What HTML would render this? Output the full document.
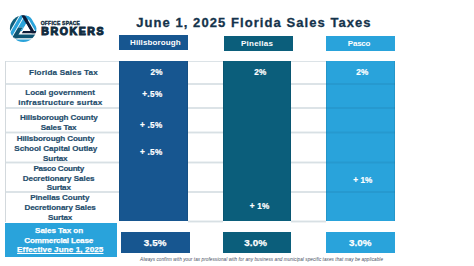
<!DOCTYPE html><html><head><meta charset="utf-8"><style>
html,body{margin:0;padding:0;background:#fff;width:474px;height:266px;overflow:hidden;position:relative}
span{position:absolute;white-space:nowrap;font-family:"Liberation Sans",sans-serif;line-height:0;}
.box{position:absolute}
.hl{position:absolute;left:5px;width:390px;height:2px;background:#dce3e7}
.pl{position:absolute;left:326px;width:69px;height:2px;background:rgba(0,30,60,0.07)}
.vl{position:absolute;width:1px;background:#d3d9dd}
.h3{height:1px;background:#d8e0e4;box-shadow:0 -1px 0 #eef2f4,0 1px 0 #eef2f4}
</style></head><body>
<svg style="position:absolute;left:0;top:0" width="50" height="50" viewBox="0 0 50 50"><defs><clipPath id="cc"><circle cx="23" cy="28" r="12.9"/></clipPath></defs><g transform="translate(23.2,28.6) scale(1.03) translate(-23,-28)"><g clip-path="url(#cc)"><polygon points="17.89,10.00 22.09,10.00 4.78,40.00 0.58,40.00" fill="#0f5f7d"/><polygon points="23.09,10.00 26.79,10.00 7.17,44.00 3.47,44.00" fill="#2ba3da"/><polygon points="27.79,10.00 33.59,10.00 23.78,27.00 17.98,27.00" fill="#2ba3da"/><polygon points="17.98,27.00 22.48,27.00 17.00,36.50 12.50,36.50" fill="#0e5472"/><polygon points="22.48,27.00 23.78,27.00 21.82,30.40 20.52,30.40" fill="#2ba3da"/><polygon points="18.21,10.00 21.81,10.00 34.85,32.60 31.25,32.60" fill="#0e1c38"/><polygon points="23.01,10.00 26.21,10.00 38.91,32.00 35.71,32.00" fill="#2ba3da"/><polygon points="25.90,23.30 21.82,30.40 29.98,30.40" fill="#fff"/><polygon points="22.92,30.40 40.00,30.40 40.00,32.60 21.65,32.60" fill="#0e1c38"/><polygon points="16.71,33.70 40.00,33.70 40.00,37.40 14.58,37.40" fill="#0e5472"/><polygon points="12.20,36.50 18.00,36.50 17.48,37.40 11.68,37.40" fill="#0e5472"/><polygon points="16.00,38.50 40.00,38.50 40.00,44.00 16.00,44.00" fill="#2ba3da"/></g></g></svg>
<div class="hl" style="top:61px;height:1px"></div><div class="hl" style="top:83px"></div><div class="hl" style="top:107px"></div><div class="hl" style="top:191px"></div><div class="hl h3" style="top:132px"></div><div class="hl h3" style="top:162px"></div><div class="hl h3" style="left:188px;width:35px;top:221px"></div><div class="hl h3" style="left:291px;width:35px;top:221px"></div>
<div class="box" style="left:119px;top:35px;width:69px;height:15px;background:#175690"></div>
<div class="box" style="left:224px;top:36px;width:69px;height:15px;background:#0b5e7b"></div>
<div class="box" style="left:326px;top:36px;width:69px;height:15px;background:#29a3db"></div>
<div class="vl" style="left:5px;top:61px;height:161px"></div>
<div class="box" style="left:119px;top:61px;width:69px;height:160px;background:#175690;box-shadow:inset 1px 0 rgba(0,0,0,0.08),inset -1px 0 rgba(0,0,0,0.08)"></div>
<div class="box" style="left:223px;top:61px;width:68px;height:160px;background:#0b5e7b;box-shadow:inset 1px 0 rgba(0,0,0,0.08),inset -1px 0 rgba(0,0,0,0.08)"></div>
<div class="box" style="left:326px;top:61px;width:69px;height:160px;background:#29a3db;box-shadow:inset 1px 0 rgba(0,0,0,0.08),inset -1px 0 rgba(0,0,0,0.08)"></div>
<div class="pl" style="top:83px"></div><div class="pl" style="top:107px"></div><div class="pl" style="top:191px"></div><div class="pl" style="top:132px;height:1px;box-shadow:0 -1px 0 rgba(0,30,60,0.035),0 1px 0 rgba(0,30,60,0.035)"></div><div class="pl" style="top:162px;height:1px;box-shadow:0 -1px 0 rgba(0,30,60,0.035),0 1px 0 rgba(0,30,60,0.035)"></div>
<div class="box" style="left:5px;top:223px;width:112px;height:34px;background:#29a3db"></div>
<div class="box" style="left:121px;top:232px;width:69px;height:21px;background:#175690"></div>
<div class="box" style="left:223px;top:232px;width:68px;height:21px;background:#0b5e7b"></div>
<div class="box" style="left:326px;top:232px;width:69px;height:21px;background:#29a3db"></div>
<span style="left:40.67px;top:23.22px;font-size:5.0px;letter-spacing:0.246px;color:#112c40;font-weight:bold;font-style:normal;-webkit-text-stroke:0.35px #112c40;">OFFICE SPACE</span><span style="left:41.35px;top:31.41px;font-size:10.5px;letter-spacing:1.600px;color:#112c40;font-weight:bold;font-style:normal;-webkit-text-stroke:1.1px #112c40;">BROKERS</span><span style="left:136.15px;top:22.55px;font-size:13.0px;letter-spacing:1.067px;color:#14334b;font-weight:bold;font-style:normal;-webkit-text-stroke:0.3px #14334b;">June 1, 2025 Florida Sales Taxes</span><span style="left:130.00px;top:43.18px;font-size:8.0px;letter-spacing:0.114px;color:#fff;font-weight:bold;font-style:normal;">Hillsborough</span><span style="left:241.00px;top:44.38px;font-size:8.0px;letter-spacing:0.230px;color:#fff;font-weight:bold;font-style:normal;">Pinellas</span><span style="left:347.80px;top:44.38px;font-size:8.0px;letter-spacing:-0.221px;color:#fff;font-weight:bold;font-style:normal;">Pasco</span><span style="left:29.10px;top:73.00px;font-size:8.1px;letter-spacing:0.164px;color:#1f4d6c;font-weight:bold;font-style:normal;-webkit-text-stroke:0.2px #1f4d6c;">Florida Sales Tax</span><span style="left:25.20px;top:93.00px;font-size:8.1px;letter-spacing:0.006px;color:#1f4d6c;font-weight:bold;font-style:normal;-webkit-text-stroke:0.2px #1f4d6c;">Local government</span><span style="left:18.20px;top:103.00px;font-size:8.1px;letter-spacing:0.247px;color:#1f4d6c;font-weight:bold;font-style:normal;-webkit-text-stroke:0.2px #1f4d6c;">infrastructure surtax</span><span style="left:20.00px;top:118.00px;font-size:8.1px;letter-spacing:-0.129px;color:#1f4d6c;font-weight:bold;font-style:normal;-webkit-text-stroke:0.2px #1f4d6c;">Hillsborough County</span><span style="left:40.80px;top:128.00px;font-size:8.1px;letter-spacing:-0.118px;color:#1f4d6c;font-weight:bold;font-style:normal;-webkit-text-stroke:0.2px #1f4d6c;">Sales Tax</span><span style="left:16.70px;top:139.00px;font-size:8.1px;letter-spacing:-0.124px;color:#1f4d6c;font-weight:bold;font-style:normal;-webkit-text-stroke:0.2px #1f4d6c;">Hillsborough County</span><span style="left:14.30px;top:149.00px;font-size:8.1px;letter-spacing:-0.032px;color:#1f4d6c;font-weight:bold;font-style:normal;-webkit-text-stroke:0.2px #1f4d6c;">School Capital Outlay</span><span style="left:43.10px;top:159.00px;font-size:8.1px;letter-spacing:-0.138px;color:#1f4d6c;font-weight:bold;font-style:normal;-webkit-text-stroke:0.2px #1f4d6c;">Surtax</span><span style="left:33.40px;top:169.00px;font-size:8.1px;letter-spacing:-0.279px;color:#1f4d6c;font-weight:bold;font-style:normal;-webkit-text-stroke:0.2px #1f4d6c;">Pasco County</span><span style="left:22.70px;top:179.00px;font-size:8.1px;letter-spacing:-0.058px;color:#1f4d6c;font-weight:bold;font-style:normal;-webkit-text-stroke:0.2px #1f4d6c;">Decretionary Sales</span><span style="left:46.80px;top:188.00px;font-size:8.1px;letter-spacing:-0.218px;color:#1f4d6c;font-weight:bold;font-style:normal;-webkit-text-stroke:0.2px #1f4d6c;">Surtax</span><span style="left:30.20px;top:198.00px;font-size:8.1px;letter-spacing:-0.108px;color:#1f4d6c;font-weight:bold;font-style:normal;-webkit-text-stroke:0.2px #1f4d6c;">Pinellas County</span><span style="left:24.40px;top:208.00px;font-size:8.1px;letter-spacing:-0.087px;color:#1f4d6c;font-weight:bold;font-style:normal;-webkit-text-stroke:0.2px #1f4d6c;">Decretionary Sales</span><span style="left:48.10px;top:218.00px;font-size:8.1px;letter-spacing:-0.218px;color:#1f4d6c;font-weight:bold;font-style:normal;-webkit-text-stroke:0.2px #1f4d6c;">Surtax</span><span style="left:35.12px;top:231.00px;font-size:8.1px;letter-spacing:-0.081px;color:#fff;font-weight:bold;font-style:normal;-webkit-text-stroke:0.25px #fff;">Sales Tax on</span><span style="left:24.32px;top:241.00px;font-size:8.1px;letter-spacing:-0.172px;color:#fff;font-weight:bold;font-style:normal;-webkit-text-stroke:0.25px #fff;">Commercial Lease</span><span style="left:17.12px;top:250.00px;font-size:8.1px;letter-spacing:0.101px;color:#fff;font-weight:bold;font-style:normal;text-decoration:underline;text-underline-offset:1px;text-decoration-thickness:1px;-webkit-text-stroke:0.25px #fff;">Effective June 1, 2025</span><span style="left:150.45px;top:72.61px;font-size:8.2px;letter-spacing:0.247px;color:#fff;font-weight:bold;font-style:normal;-webkit-text-stroke:0.2px #fff;">2%</span><span style="left:142.20px;top:95.21px;font-size:8.2px;letter-spacing:0.363px;color:#fff;font-weight:bold;font-style:normal;-webkit-text-stroke:0.2px #fff;">+.5%</span><span style="left:139.90px;top:125.71px;font-size:8.2px;letter-spacing:0.279px;color:#fff;font-weight:bold;font-style:normal;-webkit-text-stroke:0.2px #fff;">+ .5%</span><span style="left:140.10px;top:152.71px;font-size:8.2px;letter-spacing:0.229px;color:#fff;font-weight:bold;font-style:normal;-webkit-text-stroke:0.2px #fff;">+ .5%</span><span style="left:254.30px;top:72.61px;font-size:8.2px;letter-spacing:0.247px;color:#fff;font-weight:bold;font-style:normal;-webkit-text-stroke:0.2px #fff;">2%</span><span style="left:249.70px;top:207.11px;font-size:8.2px;letter-spacing:0.263px;color:#fff;font-weight:bold;font-style:normal;-webkit-text-stroke:0.2px #fff;">+ 1%</span><span style="left:356.15px;top:72.61px;font-size:8.2px;letter-spacing:0.247px;color:#fff;font-weight:bold;font-style:normal;-webkit-text-stroke:0.2px #fff;">2%</span><span style="left:353.30px;top:180.71px;font-size:8.2px;letter-spacing:0.063px;color:#fff;font-weight:bold;font-style:normal;-webkit-text-stroke:0.2px #fff;">+ 1%</span><span style="left:143.82px;top:242.95px;font-size:9.8px;letter-spacing:0.110px;color:#fff;font-weight:bold;font-style:normal;-webkit-text-stroke:0.25px #fff;">3.5%</span><span style="left:244.32px;top:242.75px;font-size:9.8px;letter-spacing:0.077px;color:#fff;font-weight:bold;font-style:normal;-webkit-text-stroke:0.25px #fff;">3.0%</span><span style="left:349.12px;top:242.75px;font-size:9.8px;letter-spacing:-0.023px;color:#fff;font-weight:bold;font-style:normal;-webkit-text-stroke:0.25px #fff;">3.0%</span><span style="left:140.00px;top:259.86px;font-size:4.6px;letter-spacing:0.080px;color:#3f4b5c;font-weight:normal;font-style:italic;">Always confirm with your tax professional with for any business and municipal specific taxes that may be applicable</span>
</body></html>
